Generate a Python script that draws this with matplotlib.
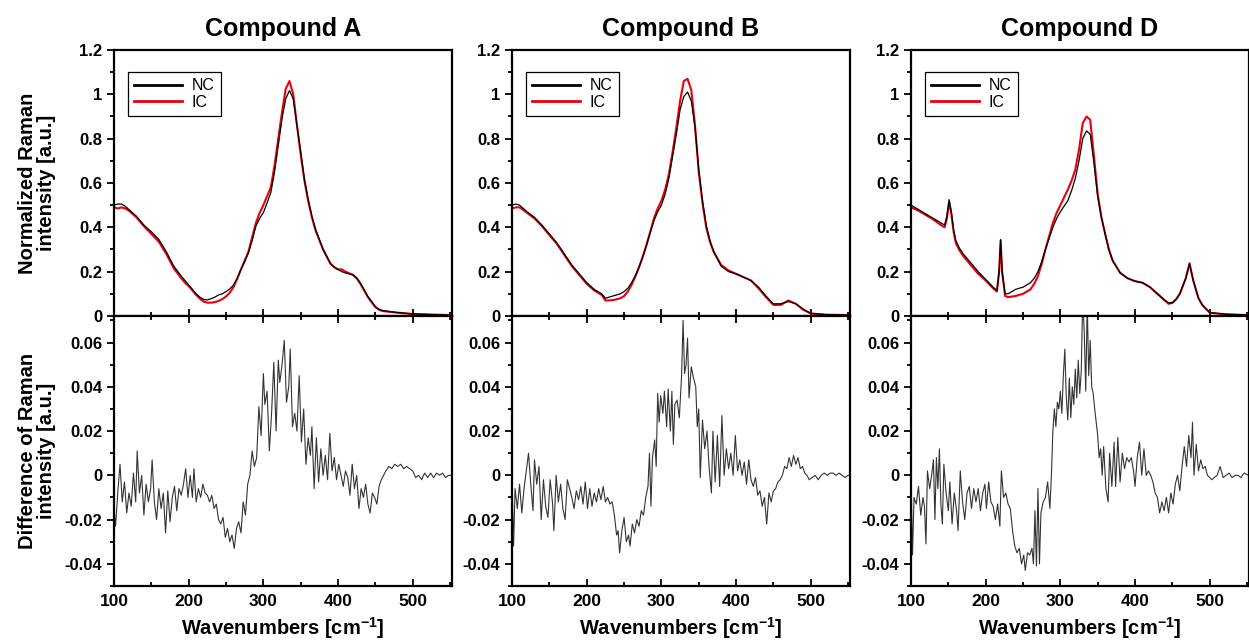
import matplotlib.pyplot as plt
from matplotlib.lines import Line2D
from matplotlib.ticker import MultipleLocator, FuncFormatter

plt.rcParams['font.family'] = ['Liberation Sans', 'DejaVu Sans']
plt.rcParams['mathtext.fontset'] = 'custom'
plt.rcParams['mathtext.rm'] = 'Liberation Sans'
plt.rcParams['mathtext.bf'] = 'Liberation Sans:bold'

titles = ['Compound A', 'Compound B', 'Compound D']
legend_labels = ['NC', 'IC']

# normalized spectra: (wavenumber, NC, IC)
spec_a = [(100, 0.50, 0.49), (105, 0.505, 0.485), (110, 0.505, 0.49), (115, 0.495, 0.485),
          (120, 0.48, 0.475), (130, 0.45, 0.445), (140, 0.41, 0.405), (150, 0.38, 0.37),
          (160, 0.345, 0.335), (170, 0.29, 0.28), (180, 0.225, 0.215), (190, 0.18, 0.17),
          (195, 0.16, 0.15), (200, 0.14, 0.135), (210, 0.10, 0.095), (215, 0.085, 0.078),
          (220, 0.075, 0.065), (225, 0.072, 0.06), (230, 0.078, 0.06), (235, 0.085, 0.062),
          (240, 0.095, 0.068), (245, 0.10, 0.076), (250, 0.11, 0.088), (255, 0.122, 0.105),
          (260, 0.14, 0.13), (265, 0.17, 0.168), (270, 0.21, 0.21), (275, 0.245, 0.25),
          (280, 0.285, 0.29), (285, 0.34, 0.355), (290, 0.405, 0.42), (295, 0.44, 0.465),
          (300, 0.466, 0.50), (305, 0.51, 0.54), (310, 0.557, 0.58), (315, 0.65, 0.68),
          (320, 0.77, 0.80), (325, 0.89, 0.92), (330, 0.98, 1.025), (335, 1.017, 1.06),
          (340, 0.98, 1.00), (345, 0.86, 0.86), (350, 0.74, 0.73), (355, 0.617, 0.61),
          (360, 0.526, 0.52), (365, 0.45, 0.445), (370, 0.39, 0.385), (380, 0.30, 0.30),
          (390, 0.236, 0.235), (395, 0.22, 0.22), (400, 0.21, 0.21), (405, 0.20, 0.21),
          (410, 0.194, 0.20), (420, 0.186, 0.185), (425, 0.172, 0.17), (430, 0.148, 0.145),
          (440, 0.088, 0.085), (450, 0.042, 0.04), (455, 0.03, 0.028), (460, 0.024, 0.022),
          (480, 0.015, 0.015), (500, 0.009, 0.009), (552, 0.003, 0.004)]

spec_b = [(100, 0.50, 0.485), (105, 0.505, 0.49), (110, 0.50, 0.49), (115, 0.485, 0.478),
          (120, 0.47, 0.465), (130, 0.445, 0.44), (140, 0.41, 0.405), (150, 0.37, 0.365),
          (160, 0.33, 0.325), (170, 0.28, 0.275), (180, 0.23, 0.225), (190, 0.19, 0.185),
          (200, 0.15, 0.145), (210, 0.12, 0.115), (220, 0.10, 0.095), (225, 0.08, 0.07),
          (230, 0.085, 0.07), (235, 0.09, 0.072), (240, 0.095, 0.075), (245, 0.10, 0.08),
          (250, 0.11, 0.09), (255, 0.125, 0.11), (260, 0.15, 0.14), (265, 0.18, 0.178),
          (270, 0.22, 0.22), (275, 0.265, 0.268), (280, 0.32, 0.32), (285, 0.375, 0.38),
          (290, 0.43, 0.44), (295, 0.47, 0.485), (300, 0.50, 0.52), (305, 0.55, 0.57),
          (310, 0.62, 0.64), (315, 0.72, 0.74), (320, 0.82, 0.85), (325, 0.93, 0.97),
          (330, 0.99, 1.06), (335, 1.01, 1.07), (340, 0.97, 1.02), (345, 0.85, 0.86),
          (350, 0.66, 0.65), (355, 0.52, 0.51), (360, 0.41, 0.40), (365, 0.34, 0.335),
          (370, 0.29, 0.29), (380, 0.225, 0.23), (390, 0.20, 0.205), (400, 0.19, 0.19),
          (410, 0.175, 0.175), (420, 0.16, 0.16), (430, 0.13, 0.125), (440, 0.09, 0.085),
          (450, 0.055, 0.05), (460, 0.055, 0.05), (470, 0.065, 0.07), (480, 0.055, 0.055),
          (490, 0.03, 0.028), (500, 0.012, 0.011), (520, 0.006, 0.006), (552, 0.004, 0.004)]

spec_d = [(100, 0.50, 0.49), (110, 0.48, 0.475), (120, 0.46, 0.455), (130, 0.44, 0.435),
          (140, 0.42, 0.41), (145, 0.41, 0.40), (148, 0.45, 0.44), (151, 0.525, 0.515),
          (154, 0.47, 0.46), (157, 0.39, 0.38), (160, 0.34, 0.33), (165, 0.305, 0.295),
          (170, 0.28, 0.27), (180, 0.24, 0.23), (190, 0.20, 0.19), (200, 0.165, 0.16),
          (210, 0.13, 0.125), (215, 0.115, 0.11), (218, 0.2, 0.2), (220, 0.345, 0.34),
          (222, 0.2, 0.2), (226, 0.10, 0.09), (230, 0.10, 0.085), (240, 0.12, 0.09),
          (250, 0.13, 0.10), (260, 0.15, 0.12), (265, 0.17, 0.145), (270, 0.20, 0.18),
          (275, 0.245, 0.235), (280, 0.30, 0.30), (285, 0.35, 0.36), (290, 0.40, 0.42),
          (295, 0.44, 0.465), (300, 0.47, 0.50), (310, 0.52, 0.57), (315, 0.565, 0.61),
          (320, 0.62, 0.66), (325, 0.70, 0.75), (330, 0.80, 0.87), (335, 0.835, 0.90),
          (340, 0.82, 0.885), (345, 0.69, 0.72), (350, 0.54, 0.55), (355, 0.445, 0.445),
          (360, 0.37, 0.37), (365, 0.30, 0.30), (370, 0.25, 0.25), (380, 0.195, 0.195),
          (390, 0.17, 0.17), (400, 0.157, 0.157), (410, 0.15, 0.15), (420, 0.13, 0.13),
          (430, 0.10, 0.10), (440, 0.07, 0.07), (445, 0.06, 0.055), (450, 0.058, 0.06),
          (455, 0.075, 0.075), (460, 0.10, 0.10), (468, 0.17, 0.17), (473, 0.235, 0.238),
          (478, 0.16, 0.16), (485, 0.08, 0.08), (490, 0.05, 0.05), (500, 0.015, 0.015),
          (520, 0.008, 0.008), (552, 0.004, 0.004)]

# difference IC - NC: (wavenumber, value)
diff_a = [(100, -0.015), (102, -0.023), (105, -0.008), (108, 0.005), (111, -0.012), (114, -0.003),
          (117, -0.017), (120, -0.008), (123, -0.014), (126, 0.001), (129, -0.012), (131, 0.011),
          (134, -0.008), (137, 0.0), (140, -0.018), (143, -0.004), (146, -0.012), (149, -0.006),
          (151, 0.007), (154, -0.012), (157, -0.02), (160, -0.006), (163, -0.015), (166, -0.008),
          (169, -0.026), (172, -0.007), (175, -0.021), (178, -0.01), (181, -0.005), (184, -0.016),
          (187, -0.006), (190, -0.009), (193, -0.004), (196, 0.003), (199, -0.01), (202, 0.0),
          (205, -0.01), (207, 0.003), (210, -0.012), (213, -0.006), (216, -0.01), (219, -0.004),
          (222, -0.008), (225, -0.009), (228, -0.012), (231, -0.009), (234, -0.015), (237, -0.013),
          (240, -0.02), (243, -0.022), (246, -0.019), (249, -0.028), (252, -0.024), (255, -0.03),
          (258, -0.027), (261, -0.033), (264, -0.024), (267, -0.021), (270, -0.026), (273, -0.012),
          (276, -0.018), (279, -0.004), (282, 0.0), (285, 0.011), (288, 0.004), (291, 0.008),
          (294, 0.031), (297, 0.018), (300, 0.046), (302, 0.032), (305, 0.038), (308, 0.011),
          (311, 0.028), (314, 0.051), (317, 0.02), (320, 0.052), (322, 0.042), (325, 0.05),
          (328, 0.061), (331, 0.033), (334, 0.04), (336, 0.057), (339, 0.022), (342, 0.028),
          (345, 0.02), (348, 0.045), (351, 0.015), (354, 0.03), (357, 0.005), (360, 0.017),
          (363, 0.009), (365, 0.022), (368, -0.006), (371, 0.017), (374, -0.003), (377, 0.012),
          (380, 0.0), (383, 0.009), (386, -0.002), (389, 0.019), (392, 0.002), (395, 0.008),
          (398, -0.002), (401, 0.005), (404, 0.0), (407, -0.005), (410, 0.002), (413, -0.001),
          (416, -0.009), (419, 0.005), (422, -0.006), (425, 0.0), (428, -0.015), (431, -0.006),
          (434, -0.01), (437, -0.004), (440, -0.013), (443, -0.017), (446, -0.008), (449, -0.01),
          (452, -0.013), (455, -0.005), (458, -0.002), (461, 0.0), (464, 0.002), (468, 0.004),
          (472, 0.003), (476, 0.005), (480, 0.004), (484, 0.005), (488, 0.003), (492, 0.004),
          (496, 0.003), (500, 0.002), (504, -0.001), (508, 0.0), (512, -0.002), (516, 0.001),
          (520, -0.001), (524, 0.001), (528, -0.001), (532, 0.001), (536, 0.0), (540, 0.001),
          (544, -0.001), (548, 0.0), (552, 0.0)]

diff_b = [(100, -0.004), (102, -0.032), (104, -0.006), (107, -0.015), (110, -0.004), (113, -0.017),
          (116, -0.006), (119, 0.002), (122, 0.01), (125, -0.004), (128, -0.016), (130, 0.007),
          (133, -0.004), (136, 0.004), (139, -0.02), (142, -0.002), (145, -0.014), (148, -0.019),
          (151, -0.002), (154, -0.012), (156, -0.025), (159, 0.0), (162, -0.012), (165, -0.004),
          (168, -0.015), (171, -0.02), (174, -0.002), (177, -0.006), (180, -0.01), (183, -0.015),
          (186, -0.007), (189, -0.011), (192, -0.005), (195, -0.013), (198, -0.003), (201, -0.015),
          (204, -0.006), (207, -0.014), (210, -0.008), (213, -0.012), (216, -0.006), (219, -0.011),
          (222, -0.005), (225, -0.012), (228, -0.01), (231, -0.013), (234, -0.012), (237, -0.018),
          (240, -0.027), (242, -0.025), (244, -0.035), (247, -0.025), (250, -0.019), (253, -0.03),
          (256, -0.027), (258, -0.032), (261, -0.022), (264, -0.026), (267, -0.02), (270, -0.023),
          (273, -0.016), (276, -0.018), (279, -0.01), (282, -0.005), (284, 0.01), (286, -0.014),
          (288, 0.008), (291, 0.016), (293, 0.004), (295, 0.037), (297, 0.024), (299, 0.036),
          (302, 0.028), (304, 0.038), (307, 0.022), (309, 0.039), (312, 0.02), (314, 0.038),
          (316, 0.014), (318, 0.032), (321, 0.034), (324, 0.026), (327, 0.045), (329, 0.07),
          (331, 0.046), (333, 0.05), (335, 0.062), (337, 0.035), (340, 0.049), (343, 0.044),
          (346, 0.04), (348, 0.022), (350, 0.03), (352, -0.001), (355, 0.025), (358, 0.012),
          (361, 0.02), (364, 0.003), (367, -0.008), (369, 0.02), (372, -0.003), (375, 0.018),
          (378, -0.005), (381, 0.027), (384, 0.0), (387, 0.012), (390, 0.003), (393, 0.01),
          (396, 0.0), (399, 0.018), (402, 0.002), (405, 0.007), (408, 0.0), (411, 0.006),
          (414, -0.004), (417, 0.007), (420, -0.002), (423, -0.005), (426, -0.001), (429, -0.009),
          (432, -0.007), (435, -0.014), (438, -0.01), (441, -0.022), (444, -0.008), (447, -0.012),
          (450, -0.007), (453, -0.006), (456, -0.003), (459, -0.002), (462, 0.0), (465, 0.004),
          (468, 0.003), (471, 0.008), (474, 0.004), (477, 0.009), (480, 0.005), (483, 0.008),
          (486, 0.003), (489, 0.004), (492, 0.001), (495, 0.0), (498, -0.002), (502, -0.001),
          (506, 0.0), (510, -0.002), (514, 0.0), (518, 0.001), (522, 0.0), (526, 0.001),
          (530, 0.001), (534, 0.0), (538, 0.001), (542, 0.0), (546, -0.001), (550, 0.0), (552, 0.0)]

diff_d = [(100, 0.0), (102, -0.036), (104, -0.01), (107, -0.013), (110, -0.005), (113, -0.018),
          (116, -0.01), (118, -0.014), (120, -0.031), (122, 0.002), (125, -0.006), (128, 0.001),
          (130, 0.007), (132, -0.02), (134, 0.008), (136, -0.006), (138, 0.012), (140, -0.013),
          (142, -0.022), (144, 0.005), (147, -0.008), (150, -0.016), (152, -0.003), (155, -0.022),
          (158, -0.008), (161, -0.016), (163, -0.025), (166, 0.002), (169, -0.012), (172, -0.02),
          (175, -0.008), (178, -0.005), (181, -0.015), (184, -0.006), (187, -0.012), (190, -0.006),
          (193, -0.016), (196, -0.008), (199, -0.004), (201, -0.015), (204, -0.003), (207, -0.012),
          (210, -0.014), (213, -0.02), (216, -0.013), (219, -0.023), (221, 0.002), (224, -0.01),
          (227, -0.008), (230, -0.013), (233, -0.015), (236, -0.025), (239, -0.032), (242, -0.035),
          (245, -0.033), (248, -0.04), (251, -0.036), (253, -0.043), (256, -0.035), (259, -0.036),
          (262, -0.033), (264, -0.04), (266, -0.016), (268, -0.041), (270, -0.006), (272, -0.04),
          (274, -0.017), (277, -0.012), (280, -0.01), (283, -0.003), (286, -0.015), (288, 0.0),
          (290, 0.02), (292, 0.03), (294, 0.022), (296, 0.033), (298, 0.03), (300, 0.038),
          (302, 0.028), (304, 0.045), (306, 0.057), (308, 0.035), (310, 0.025), (312, 0.044),
          (314, 0.026), (316, 0.04), (318, 0.032), (320, 0.048), (322, 0.035), (324, 0.052),
          (326, 0.037), (328, 0.047), (330, 0.08), (332, 0.065), (334, 0.038), (336, 0.078),
          (338, 0.045), (340, 0.061), (342, 0.04), (344, 0.037), (346, 0.03), (348, 0.024),
          (350, 0.018), (352, 0.008), (354, 0.012), (356, 0.0), (358, 0.013), (361, -0.006),
          (364, -0.012), (366, 0.01), (369, -0.005), (372, 0.015), (374, -0.005), (377, 0.017),
          (380, -0.003), (383, 0.01), (386, 0.003), (389, 0.008), (392, 0.006), (395, 0.008),
          (398, 0.002), (400, -0.005), (403, 0.008), (406, 0.015), (409, 0.0), (412, 0.012),
          (415, 0.0), (418, 0.002), (421, 0.0), (424, -0.003), (427, -0.008), (430, -0.01),
          (433, -0.017), (436, -0.012), (439, -0.016), (442, -0.01), (445, -0.017), (448, -0.008),
          (451, -0.013), (454, -0.004), (457, 0.0), (460, -0.007), (463, 0.004), (466, 0.013),
          (469, 0.004), (472, 0.018), (475, 0.008), (477, 0.024), (479, 0.0), (482, 0.014),
          (485, 0.002), (488, 0.007), (491, 0.003), (494, 0.004), (497, 0.0), (500, -0.001),
          (503, -0.002), (506, -0.001), (510, 0.0), (514, 0.004), (518, -0.001), (522, 0.0),
          (526, 0.001), (530, -0.001), (534, 0.0), (538, 0.0), (542, -0.001), (546, 0.001),
          (552, 0.0)]

spectra = [spec_a, spec_b, spec_d]
diffs = [diff_a, diff_b, diff_d]

fig = plt.figure(figsize=(12.49, 6.4), dpi=100)
lefts = [0.0913, 0.4100, 0.7294]
width = 0.2702
fmt = FuncFormatter(lambda v, pos: '%g' % round(v, 4))

for i in range(3):
    ax1 = fig.add_axes([lefts[i], 0.5063, width, 0.4156])
    ax2 = fig.add_axes([lefts[i], 0.0844, width, 0.4219])

    x, nc, ic = zip(*spectra[i])
    ax1.plot(x, ic, color='#e8000b', lw=1.5, zorder=2)
    ax1.plot(x, nc, color='black', lw=0.9, zorder=3)
    dx, dy = zip(*diffs[i])
    ax2.plot(dx, dy, color='#333333', lw=0.8)

    ax1.set_ylim(0, 1.2)
    ax2.set_ylim(-0.05, 0.072)
    for ax in (ax1, ax2):
        ax.set_xlim(100, 552)
        ax.xaxis.set_major_locator(MultipleLocator(100))
        ax.xaxis.set_minor_locator(MultipleLocator(50))
        ax.yaxis.set_major_formatter(fmt)
        for s in ax.spines.values():
            s.set_linewidth(1.6)
        ax.tick_params(axis='y', which='both', direction='out', width=1.3,
                       labelsize=12)
        ax.tick_params(axis='y', which='major', length=5)
        ax.tick_params(axis='y', which='minor', length=3)
        ax.tick_params(axis='x', which='both', direction='in', width=1.3,
                       labelsize=12.5, pad=6)
        ax.tick_params(axis='x', which='major', length=5)
        ax.tick_params(axis='x', which='minor', length=3)
        for lab in ax.get_xticklabels() + ax.get_yticklabels():
            lab.set_fontweight('bold')

    ax1.yaxis.set_major_locator(MultipleLocator(0.2))
    ax1.yaxis.set_minor_locator(MultipleLocator(0.1))
    ax2.yaxis.set_major_locator(MultipleLocator(0.02))
    ax2.yaxis.set_minor_locator(MultipleLocator(0.01))
    ax1.tick_params(axis='x', labelbottom=False)
    ax2.tick_params(axis='x', which='both', top=True)

    ax1.set_title(titles[i], fontsize=18, fontweight='bold', pad=10)
    ax2.set_xlabel(r'Wavenumbers [cm$^{\mathbf{-1}}$]', fontsize=14.5,
                   fontweight='bold', labelpad=4)

    handles = [Line2D([], [], color='black', lw=2),
               Line2D([], [], color='#e8000b', lw=2)]
    leg = ax1.legend(handles, legend_labels, loc='upper left',
                     bbox_to_anchor=(0.041, 0.917), borderaxespad=0,
                     fontsize=11.5, handlelength=3.0, labelspacing=0.1,
                     borderpad=0.4, handletextpad=0.6, fancybox=False,
                     framealpha=1, edgecolor='black')
    leg.get_frame().set_linewidth(0.9)

    if i == 0:
        ax1.set_ylabel('Normalized Raman\nintensity [a.u.]', fontsize=14.5,
                       fontweight='bold', linespacing=1.0)
        ax2.set_ylabel('Difference of Raman\nintensity [a.u.]', fontsize=14.5,
                       fontweight='bold', linespacing=1.0)
        ax1.yaxis.set_label_coords(-0.172, 0.5)
        ax2.yaxis.set_label_coords(-0.172, 0.5)

fig.savefig('out.png', dpi=100)
